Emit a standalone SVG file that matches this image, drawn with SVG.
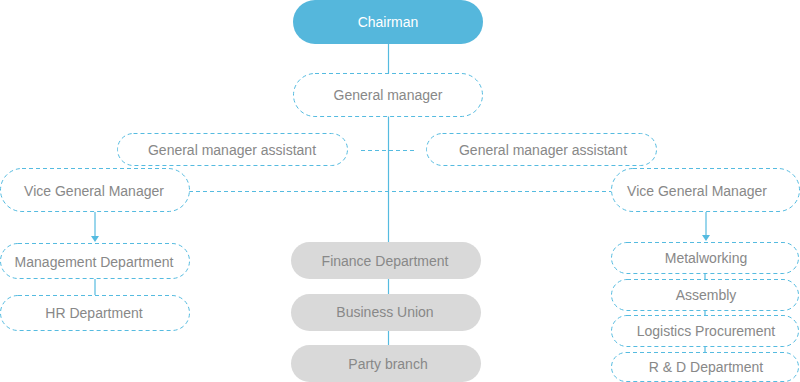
<svg xmlns="http://www.w3.org/2000/svg" width="800" height="382" viewBox="0 0 800 382">
<style>
.n{fill:#fff;stroke:#55bbe0;stroke-width:1;stroke-dasharray:4 3}
.g{fill:#d9d9d9}
.t{font-family:"Liberation Sans",Arial,sans-serif;font-size:14px;fill:#888;text-anchor:middle;dominant-baseline:central}
.c{stroke:#55bbe0;stroke-width:1.2;fill:none}
.d{stroke:#55bbe0;stroke-width:1;fill:none;stroke-dasharray:4 3}
</style>
<defs>
<marker id="ar" markerWidth="8" markerHeight="8" refX="4" refY="6" orient="auto" markerUnits="userSpaceOnUse" viewBox="0 0 8 8">
<path d="M0,0 L8,0 L4,6 Z" fill="#55bbe0"/>
</marker>
</defs>
<g id="connectors">
<line class="c" x1="388.5" y1="44" x2="388.5" y2="242"/>
<line class="c" x1="388.5" y1="279" x2="388.5" y2="294"/>
<line class="c" x1="388.5" y1="331" x2="388.5" y2="345"/>
<line class="d" x1="361" y1="150.5" x2="417" y2="150.5"/>
<line class="d" x1="189" y1="191.5" x2="611" y2="191.5"/>
<line class="c" x1="95" y1="212" x2="95" y2="236"/>
<path d="M91,236 L99,236 L95,242 Z" fill="#55bbe0"/>
<line class="c" x1="706" y1="212" x2="706" y2="235"/>
<path d="M702,235 L710,235 L706,241 Z" fill="#55bbe0"/>
<line class="c" x1="95" y1="279" x2="95" y2="295"/>
<line class="c" x1="705" y1="274" x2="705" y2="279"/>
<line class="c" x1="705" y1="310" x2="705" y2="315"/>
<line class="c" x1="705" y1="347" x2="705" y2="352"/>
</g>
<g id="chairman">
<rect x="293" y="0" width="190" height="44" rx="22" fill="#55b7dc"/>
<text class="t" x="388" y="22" style="fill:#fff">Chairman</text>
</g>
<g id="general-manager">
<rect class="n" x="293.5" y="73.5" width="189" height="43" rx="21.5"/>
<text class="t" x="388" y="95">General manager</text>
</g>
<g id="gm-assistant-left">
<rect class="n" x="117.5" y="133.5" width="230" height="32" rx="16"/>
<text class="t" x="232" y="150">General manager assistant</text>
</g>
<g id="gm-assistant-right">
<rect class="n" x="426.5" y="133.5" width="230" height="32" rx="16"/>
<text class="t" x="543" y="150">General manager assistant</text>
</g>
<g id="vgm-left">
<rect class="n" x="0.5" y="168.5" width="189" height="43" rx="21.5"/>
<text class="t" x="94" y="191">Vice General Manager</text>
</g>
<g id="vgm-right">
<rect class="n" x="611.5" y="168.5" width="188" height="43" rx="21.5"/>
<text class="t" x="697" y="191">Vice General Manager</text>
</g>
<g id="management-dept">
<rect class="n" x="0.5" y="243.5" width="189" height="35" rx="17.5"/>
<text class="t" x="94" y="262">Management Department</text>
</g>
<g id="hr-dept">
<rect class="n" x="0.5" y="295.5" width="189" height="35" rx="17.5"/>
<text class="t" x="94" y="313">HR Department</text>
</g>
<g id="finance">
<rect class="g" x="291" y="242" width="190" height="37" rx="18.5"/>
<text class="t" x="385" y="261">Finance Department</text>
</g>
<g id="business-union">
<rect class="g" x="291" y="294" width="190" height="37" rx="18.5"/>
<text class="t" x="385" y="312">Business Union</text>
</g>
<g id="party-branch">
<rect class="g" x="291" y="345" width="190" height="37" rx="18.5"/>
<text class="t" x="388" y="364">Party branch</text>
</g>
<g id="metalworking">
<rect class="n" x="611.5" y="242.5" width="187" height="31" rx="15.5"/>
<text class="t" x="706" y="258">Metalworking</text>
</g>
<g id="assembly">
<rect class="n" x="611.5" y="279.5" width="187" height="31" rx="15.5"/>
<text class="t" x="706" y="295">Assembly</text>
</g>
<g id="logistics">
<rect class="n" x="611.5" y="315.5" width="187" height="31" rx="15.5"/>
<text class="t" x="706" y="331">Logistics Procurement</text>
</g>
<g id="rd-dept">
<rect class="n" x="611.5" y="352.5" width="187" height="29" rx="14.5"/>
<text class="t" x="706" y="367">R &amp; D Department</text>
</g>
</svg>
